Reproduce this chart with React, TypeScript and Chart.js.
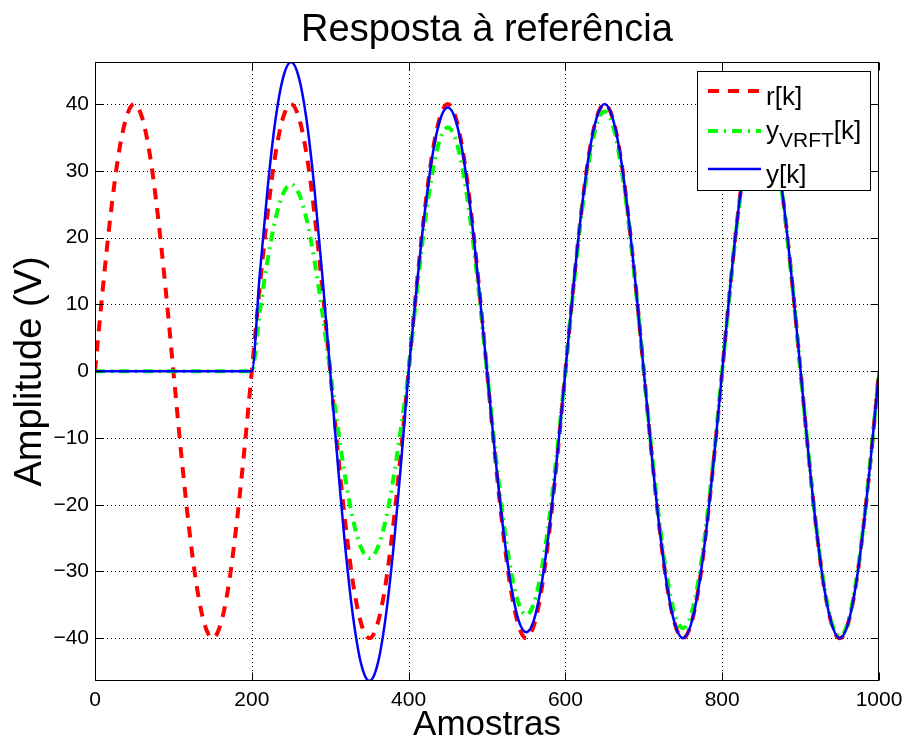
import React, { useEffect, useRef } from "react";
import { Chart, registerables } from "chart.js";

Chart.register(...registerables);

const FONT = "'Liberation Sans', Arial, Helvetica, sans-serif";

const TITLE = "Resposta à referência";
const X_LABEL = "Amostras";
const Y_LABEL = "Amplitude (V)";

const X_MIN = 0;
const X_MAX = 1000;
const Y_MIN = -46.4;
const Y_MAX = 46.3;
const X_TICKS = [0, 200, 400, 600, 800, 1000];
const Y_TICKS = [-40, -30, -20, -10, 0, 10, 20, 30, 40];

// sample index k
const K = [
  0, 10, 20, 30, 40, 50, 60, 70, 80, 90,
  100, 110, 120, 130, 140, 150, 160, 170, 180, 190,
  200, 210, 220, 230, 240, 250, 260, 270, 280, 290,
  300, 310, 320, 330, 340, 350, 360, 370, 380, 390,
  400, 410, 420, 430, 440, 450, 460, 470, 480, 490,
  500, 510, 520, 530, 540, 550, 560, 570, 580, 590,
  600, 610, 620, 630, 640, 650, 660, 670, 680, 690,
  700, 710, 720, 730, 740, 750, 760, 770, 780, 790,
  800, 810, 820, 830, 840, 850, 860, 870, 880, 890,
  900, 910, 920, 930, 940, 950, 960, 970, 980, 990,
  1000,
];

// r[k]
const R = [
  0, 12.4, 23.5, 32.4, 38.0, 40.0, 38.0, 32.4, 23.5, 12.4,
  0, -12.4, -23.5, -32.4, -38.0, -40.0, -38.0, -32.4, -23.5, -12.4,
  0, 12.4, 23.5, 32.4, 38.0, 40.0, 38.0, 32.4, 23.5, 12.4,
  0, -12.4, -23.5, -32.4, -38.0, -40.0, -38.0, -32.4, -23.5, -12.4,
  0, 12.4, 23.5, 32.4, 38.0, 40.0, 38.0, 32.4, 23.5, 12.4,
  0, -12.4, -23.5, -32.4, -38.0, -40.0, -38.0, -32.4, -23.5, -12.4,
  0, 12.4, 23.5, 32.4, 38.0, 40.0, 38.0, 32.4, 23.5, 12.4,
  0, -12.4, -23.5, -32.4, -38.0, -40.0, -38.0, -32.4, -23.5, -12.4,
  0, 12.4, 23.5, 32.4, 38.0, 40.0, 38.0, 32.4, 23.5, 12.4,
  0, -12.4, -23.5, -32.4, -38.0, -40.0, -38.0, -32.4, -23.5, -12.4,
  0,
];

// y_VRFT[k]
const Y_VRFT = [
  0, 0, 0, 0, 0, 0, 0, 0, 0, 0,
  0, 0, 0, 0, 0, 0, 0, 0, 0, 0,
  0, 8.7, 16.5, 22.7, 26.6, 28.0, 26.6, 22.7, 16.5, 8.7,
  0, -8.7, -16.5, -22.7, -26.6, -28.0, -26.6, -22.7, -16.5, -8.7,
  0, 11.3, 21.5, 29.5, 34.7, 36.5, 34.7, 29.5, 21.5, 11.3,
  0, -11.3, -21.5, -29.5, -34.7, -36.5, -34.7, -29.5, -21.5, -11.3,
  0, 12.0, 22.9, 31.4, 37.0, 38.9, 37.0, 31.4, 22.9, 12.0,
  0, -11.9, -22.6, -31.1, -36.6, -38.5, -36.6, -31.1, -22.6, -11.9,
  0, 12.2, 23.2, 32.0, 37.6, 39.5, 37.6, 32.0, 23.2, 12.2,
  0, -12.3, -23.3, -32.1, -37.8, -39.7, -37.8, -32.1, -23.3, -12.3,
  0,
];

// y[k]
const Y = [
  0, 0, 0, 0, 0, 0, 0, 0, 0, 0,
  0, 0, 0, 0, 0, 0, 0, 0, 0, 0,
  0, 14.3, 27.2, 37.5, 44.0, 46.3, 44.0, 37.5, 27.2, 14.3,
  0, -14.3, -27.3, -37.5, -44.1, -46.4, -44.1, -37.5, -27.3, -14.3,
  0, 12.2, 23.2, 32.0, 37.6, 39.5, 37.6, 32.0, 23.2, 12.2,
  0, -12.1, -23.0, -31.6, -37.2, -39.1, -37.2, -31.6, -23.0, -12.1,
  0, 12.4, 23.5, 32.4, 38.0, 40.0, 38.0, 32.4, 23.5, 12.4,
  0, -12.4, -23.5, -32.4, -38.0, -40.0, -38.0, -32.4, -23.5, -12.4,
  0, 12.4, 23.5, 32.4, 38.0, 40.0, 38.0, 32.4, 23.5, 12.4,
  0, -12.4, -23.5, -32.4, -38.0, -40.0, -38.0, -32.4, -23.5, -12.4,
  0,
];

const RED = "#ff0000";
const GREEN = "#00ff00";
const BLUE = "#0000ff";
const RED_DASH = [11, 9];
const GREEN_DASH = [10, 6, 2, 6];

const toXY = (vals: number[]) => vals.map((v, i) => ({ x: K[i], y: v }));

const fmt = (v: any) => {
  const n = Number(v);
  return n < 0 ? "\u2212" + String(Math.abs(n)) : String(n);
};

const framePlugin = {
  id: "matlabFrame",
  beforeDatasetsDraw(chart: any) {
    const { ctx, chartArea: a, scales } = chart;
    const x = scales.x;
    const y = scales.y;
    ctx.save();
    ctx.strokeStyle = "#000";
    ctx.lineWidth = 1;
    ctx.setLineDash([1, 3]);
    for (const t of X_TICKS) {
      if (t === X_MIN || t === X_MAX) continue;
      const px = Math.round(x.getPixelForValue(t)) + 0.5;
      ctx.beginPath();
      ctx.moveTo(px, a.top);
      ctx.lineTo(px, a.bottom);
      ctx.stroke();
    }
    for (const t of Y_TICKS) {
      const py = Math.round(y.getPixelForValue(t)) + 0.5;
      ctx.beginPath();
      ctx.moveTo(a.left, py);
      ctx.lineTo(a.right, py);
      ctx.stroke();
    }
    ctx.restore();
  },
  afterDatasetsDraw(chart: any) {
    const { ctx, chartArea: a, scales } = chart;
    const x = scales.x;
    const y = scales.y;
    ctx.save();
    ctx.strokeStyle = "#000";
    ctx.lineWidth = 1;
    ctx.setLineDash([]);
    const L = Math.round(a.left) + 0.5;
    const R_ = Math.round(a.right) - 0.5;
    const T = Math.round(a.top) + 0.5;
    const B = Math.round(a.bottom) - 0.5;
    ctx.strokeRect(L, T, R_ - L, B - T);
    const tl = 8;
    for (const t of X_TICKS) {
      const px = Math.round(x.getPixelForValue(t)) + 0.5;
      ctx.beginPath();
      ctx.moveTo(px, B);
      ctx.lineTo(px, B - tl);
      ctx.moveTo(px, T);
      ctx.lineTo(px, T + tl);
      ctx.stroke();
    }
    for (const t of Y_TICKS) {
      const py = Math.round(y.getPixelForValue(t)) + 0.5;
      ctx.beginPath();
      ctx.moveTo(L, py);
      ctx.lineTo(L + tl, py);
      ctx.moveTo(R_, py);
      ctx.lineTo(R_ - tl, py);
      ctx.stroke();
    }

    // title, centred over the axes
    ctx.fillStyle = "#000";
    ctx.textAlign = "center";
    ctx.textBaseline = "alphabetic";
    ctx.font = `38px ${FONT}`;
    ctx.fillText(TITLE, (a.left + a.right) / 2, 41);

    // legend
    const bx = 697.5, by = 71.5, bw = 173, bh = 119;
    ctx.fillStyle = "#fff";
    ctx.fillRect(bx, by, bw, bh);
    ctx.strokeRect(bx, by, bw, bh);
    const lx0 = 708, lx1 = 761, tx = 766;
    const rows = [91, 131, 169];
    ctx.lineCap = "butt";
    ctx.strokeStyle = RED;
    ctx.lineWidth = 4;
    ctx.setLineDash(RED_DASH);
    ctx.beginPath();
    ctx.moveTo(lx0, rows[0]);
    ctx.lineTo(lx1, rows[0]);
    ctx.stroke();
    ctx.strokeStyle = GREEN;
    ctx.setLineDash(GREEN_DASH);
    ctx.beginPath();
    ctx.moveTo(lx0, rows[1]);
    ctx.lineTo(lx1, rows[1]);
    ctx.stroke();
    ctx.strokeStyle = BLUE;
    ctx.lineWidth = 2.5;
    ctx.setLineDash([]);
    ctx.beginPath();
    ctx.moveTo(lx0, rows[2]);
    ctx.lineTo(lx1, rows[2]);
    ctx.stroke();

    ctx.fillStyle = "#000";
    ctx.textBaseline = "alphabetic";
    ctx.textAlign = "left";
    ctx.font = `26px ${FONT}`;
    ctx.fillText("r[k]", tx, 105);
    ctx.fillText("y[k]", tx, 183);
    const base2 = 139;
    ctx.fillText("y", tx, base2);
    let cx = tx + ctx.measureText("y").width;
    ctx.font = `21px ${FONT}`;
    ctx.fillText("VRFT", cx, base2 + 8);
    cx += ctx.measureText("VRFT").width;
    ctx.font = `26px ${FONT}`;
    ctx.fillText("[k]", cx, base2);
    ctx.restore();
  },
};

export default function App() {
  const ref = useRef<HTMLCanvasElement | null>(null);

  useEffect(() => {
    if (!ref.current) return;
    const chart = new Chart(ref.current, {
      type: "line",
      data: {
        datasets: [
          {
            label: "y[k]",
            data: toXY(Y),
            borderColor: BLUE,
            borderWidth: 2.5,
            pointRadius: 0,
            cubicInterpolationMode: "monotone",
            order: 0,
          },
          {
            label: "y_VRFT[k]",
            data: toXY(Y_VRFT),
            borderColor: GREEN,
            borderWidth: 4,
            borderDash: GREEN_DASH,
            pointRadius: 0,
            cubicInterpolationMode: "monotone",
            order: 1,
          },
          {
            label: "r[k]",
            data: toXY(R),
            borderColor: RED,
            borderWidth: 4,
            borderDash: RED_DASH,
            pointRadius: 0,
            cubicInterpolationMode: "monotone",
            order: 2,
          },
        ],
      },
      options: {
        responsive: false,
        animation: false,
        layout: { padding: { top: 62, right: 25, left: 0, bottom: 0 } },
        plugins: {
          legend: { display: false },
          tooltip: { enabled: false },
          title: { display: false },
        },
        scales: {
          x: {
            type: "linear",
            min: X_MIN,
            max: X_MAX,
            afterFit: (s: any) => {
              s.height = 61;
              s.paddingLeft = 0;
              s.paddingRight = 0;
            },
            afterBuildTicks: (s: any) => {
              s.ticks = X_TICKS.map((v) => ({ value: v }));
            },
            ticks: {
              color: "#000",
              font: { family: FONT, size: 21 },
              padding: 7,
              maxRotation: 0,
              autoSkip: false,
              callback: fmt,
            },
            grid: { display: false, drawTicks: false },
            border: { display: false },
            title: {
              display: true,
              text: X_LABEL,
              color: "#000",
              font: { family: FONT, size: 35, lineHeight: 1 },
              padding: { top: 0, bottom: -1 },
            },
          },
          y: {
            type: "linear",
            min: Y_MIN,
            max: Y_MAX,
            afterFit: (s: any) => {
              s.width = 95;
              s.paddingTop = 0;
              s.paddingBottom = 0;
            },
            afterBuildTicks: (s: any) => {
              s.ticks = Y_TICKS.map((v) => ({ value: v }));
            },
            ticks: {
              color: "#000",
              font: { family: FONT, size: 21 },
              padding: 6,
              autoSkip: false,
              callback: fmt,
            },
            grid: { display: false, drawTicks: false },
            border: { display: false },
            title: {
              display: true,
              text: Y_LABEL,
              color: "#000",
              font: { family: FONT, size: 38, lineHeight: 1 },
              padding: { top: 12, bottom: 0 },
            },
          },
        },
      } as any,
      plugins: [framePlugin],
    });
    return () => chart.destroy();
  }, []);

  return (
    <div style={{ position: "absolute", left: 0, top: 0, width: 904, height: 742, background: "#fff" }}>
      <canvas ref={ref} width={904} height={742} style={{ display: "block", width: 904, height: 742 }} />
    </div>
  );
}
